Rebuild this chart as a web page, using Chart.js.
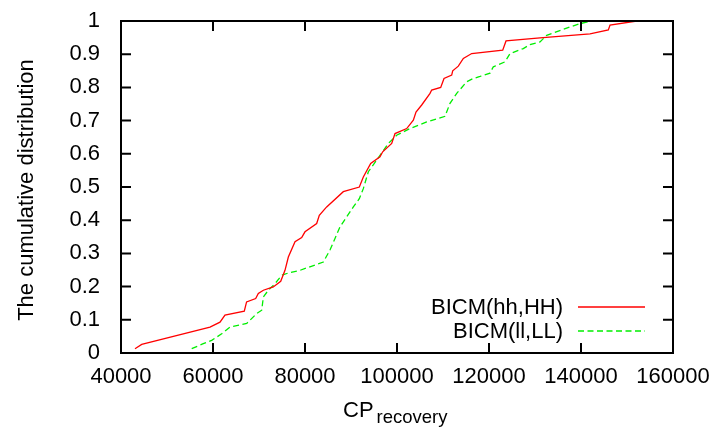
<!DOCTYPE html>
<html>
<head>
<meta charset="utf-8">
<script src="https://cdn.jsdelivr.net/npm/chart.js@4"></script>
<style>
  html, body { margin: 0; padding: 0; background: #fff; }
  #wrap { width: 715px; height: 430px; }
</style>
</head>
<body>
<div id="wrap"><canvas id="grafico" width="715" height="430"></canvas></div>
<script>
const xTicks = [40000, 60000, 80000, 100000, 120000, 140000, 160000];
const yTicks = [0, 0.1, 0.2, 0.3, 0.4, 0.5, 0.6, 0.7, 0.8, 0.9, 1];
const seriesNames = ['BICM(hh,HH)', 'BICM(ll,LL)'];

const hhX = [43040, 44500, 59350, 61520, 62600, 66800, 67300, 69280, 69850, 70950, 73100, 74720,
  75650, 76380, 77830, 79280, 80000, 82540, 83110, 84710, 88330, 91810, 92680, 94280, 96300, 96890,
  98850, 99570, 102110, 103550, 104130, 105370, 107180, 107540, 109500, 110220, 111890, 112110,
  113330, 114420, 116240, 122980, 123700, 131090, 141960, 145940, 146310, 152110];
const hhY = [0.013, 0.026, 0.078, 0.093, 0.114, 0.126, 0.154, 0.164, 0.179, 0.189, 0.199, 0.216,
  0.249, 0.289, 0.335, 0.348, 0.365, 0.390, 0.415, 0.440, 0.486, 0.500, 0.530, 0.571, 0.591, 0.606,
  0.631, 0.661, 0.676, 0.701, 0.726, 0.747, 0.782, 0.792, 0.800, 0.827, 0.837, 0.850,
  0.864, 0.887, 0.902, 0.912, 0.940, 0.949, 0.961, 0.973, 0.988, 1.0];

const llX = [55370, 57890, 59710, 61890, 63700, 67330, 69500, 70590, 70950, 72030, 73480, 74940,
  76380, 78910, 83980, 85430, 86520, 87610, 89060, 90510, 91810, 92680, 93770, 95590, 98110, 99930,
  102830, 106460, 110440, 111520, 112980, 115150, 116600, 118050, 120220, 120940, 123480, 124570,
  127460, 128910, 131090, 132540, 137610, 139780, 142330];
const llY = [0.013, 0.028, 0.038, 0.058, 0.078, 0.089, 0.119, 0.129, 0.169, 0.189, 0.209, 0.234,
  0.241, 0.249, 0.274, 0.310, 0.345, 0.380, 0.410, 0.440, 0.465, 0.495, 0.546, 0.581, 0.631, 0.656,
  0.676, 0.696, 0.713, 0.752, 0.782, 0.817, 0.827, 0.833, 0.843, 0.862, 0.877, 0.902,
  0.917, 0.929, 0.937, 0.957, 0.982, 0.992, 1.0];

const FONT = 'Liberation Sans, Arial, Helvetica, sans-serif';

function pts(xs, ys) {
  return xs.map((x, i) => ({ x, y: ys[i] }));
}

// frame, inward ticks, legend and axis titles drawn gnuplot style
const gnuplotStyle = {
  id: 'gnuplotStyle',
  afterDatasetsDraw(chart) {
    const ctx = chart.ctx;
    const a = chart.chartArea;
    const xs = chart.scales.x;
    const ys = chart.scales.y;
    ctx.save();
    ctx.strokeStyle = '#000';
    ctx.lineWidth = 2;
    ctx.strokeRect(a.left, a.top, a.right - a.left, a.bottom - a.top);

    ctx.beginPath();
    xTicks.forEach(v => {
      const px = xs.getPixelForValue(v);
      ctx.moveTo(px, a.bottom); ctx.lineTo(px, a.bottom - 10);
      ctx.moveTo(px, a.top); ctx.lineTo(px, a.top + 10);
    });
    yTicks.forEach(v => {
      const py = ys.getPixelForValue(v);
      ctx.moveTo(a.left, py); ctx.lineTo(a.left + 10, py);
      ctx.moveTo(a.right, py); ctx.lineTo(a.right - 10, py);
    });
    ctx.stroke();

    // legend
    ctx.font = '22px ' + FONT;
    ctx.fillStyle = '#000';
    ctx.textAlign = 'right';
    ctx.textBaseline = 'middle';
    chart.data.datasets.forEach((ds, i) => {
      const y = a.bottom - 46 + i * 24;
      ctx.fillText(ds.label, a.right - 110, y + 1);
      ctx.beginPath();
      ctx.strokeStyle = ds.borderColor;
      ctx.lineWidth = ds.borderWidth;
      ctx.setLineDash(ds.borderDash || []);
      ctx.moveTo(a.right - 95, y);
      ctx.lineTo(a.right - 28, y);
      ctx.stroke();
      ctx.setLineDash([]);
    });

    // x title with subscript
    ctx.textAlign = 'left';
    ctx.textBaseline = 'alphabetic';
    ctx.fillStyle = '#000';
    ctx.font = '22px ' + FONT;
    ctx.fillText('CP', 343, 417);
    ctx.font = '18.5px ' + FONT;
    ctx.fillText('recovery', 376.5, 422.5);

    // y title
    ctx.translate(33, 190);
    ctx.rotate(-Math.PI / 2);
    ctx.font = '22px ' + FONT;
    ctx.textAlign = 'center';
    ctx.fillText('The cumulative distribution', 0, 0);
    ctx.restore();
  }
};

const ctx = document.getElementById('grafico').getContext('2d');
window.myChart = new Chart(ctx, {
  type: 'scatter',
  data: {
    datasets: [{
      label: seriesNames[0],
      data: pts(hhX, hhY),
      showLine: true,
      borderColor: '#ff0000',
      borderWidth: 1.3,
      pointRadius: 0,
      tension: 0
    }, {
      label: seriesNames[1],
      data: pts(llX, llY),
      showLine: true,
      borderColor: '#00ee00',
      borderWidth: 1.3,
      borderDash: [6, 3.5],
      pointRadius: 0,
      tension: 0
    }]
  },
  options: {
    responsive: false,
    animation: false,
    events: [],
    layout: { padding: { left: 0, top: 21, right: 42, bottom: 0 } },
    plugins: { legend: { display: false }, tooltip: { enabled: false } },
    scales: {
      x: {
        type: 'linear',
        min: 40000,
        max: 160000,
        afterBuildTicks: s => { s.ticks = xTicks.map(v => ({ value: v })); },
        afterFit: s => { s.height = 77; s.paddingLeft = 0; s.paddingRight = 0; },
        grid: { display: false, drawTicks: false, tickLength: 0 },
        border: { display: false },
        ticks: {
          autoSkip: false,
          maxRotation: 0,
          padding: 11,
          color: '#000',
          font: { family: FONT, size: 22 },
          callback: v => String(v)
        }
      },
      y: {
        type: 'linear',
        min: 0,
        max: 1,
        afterBuildTicks: s => { s.ticks = yTicks.map(v => ({ value: v })); },
        afterFit: s => { s.width = 121; s.paddingTop = 0; s.paddingBottom = 0; },
        grid: { display: false, drawTicks: false, tickLength: 0 },
        border: { display: false },
        ticks: {
          autoSkip: false,
          padding: 21,
          color: '#000',
          font: { family: FONT, size: 22 },
          callback: v => String(Number(v.toFixed(1)))
        }
      }
    }
  },
  plugins: [gnuplotStyle]
});
</script>
</body>
</html>
